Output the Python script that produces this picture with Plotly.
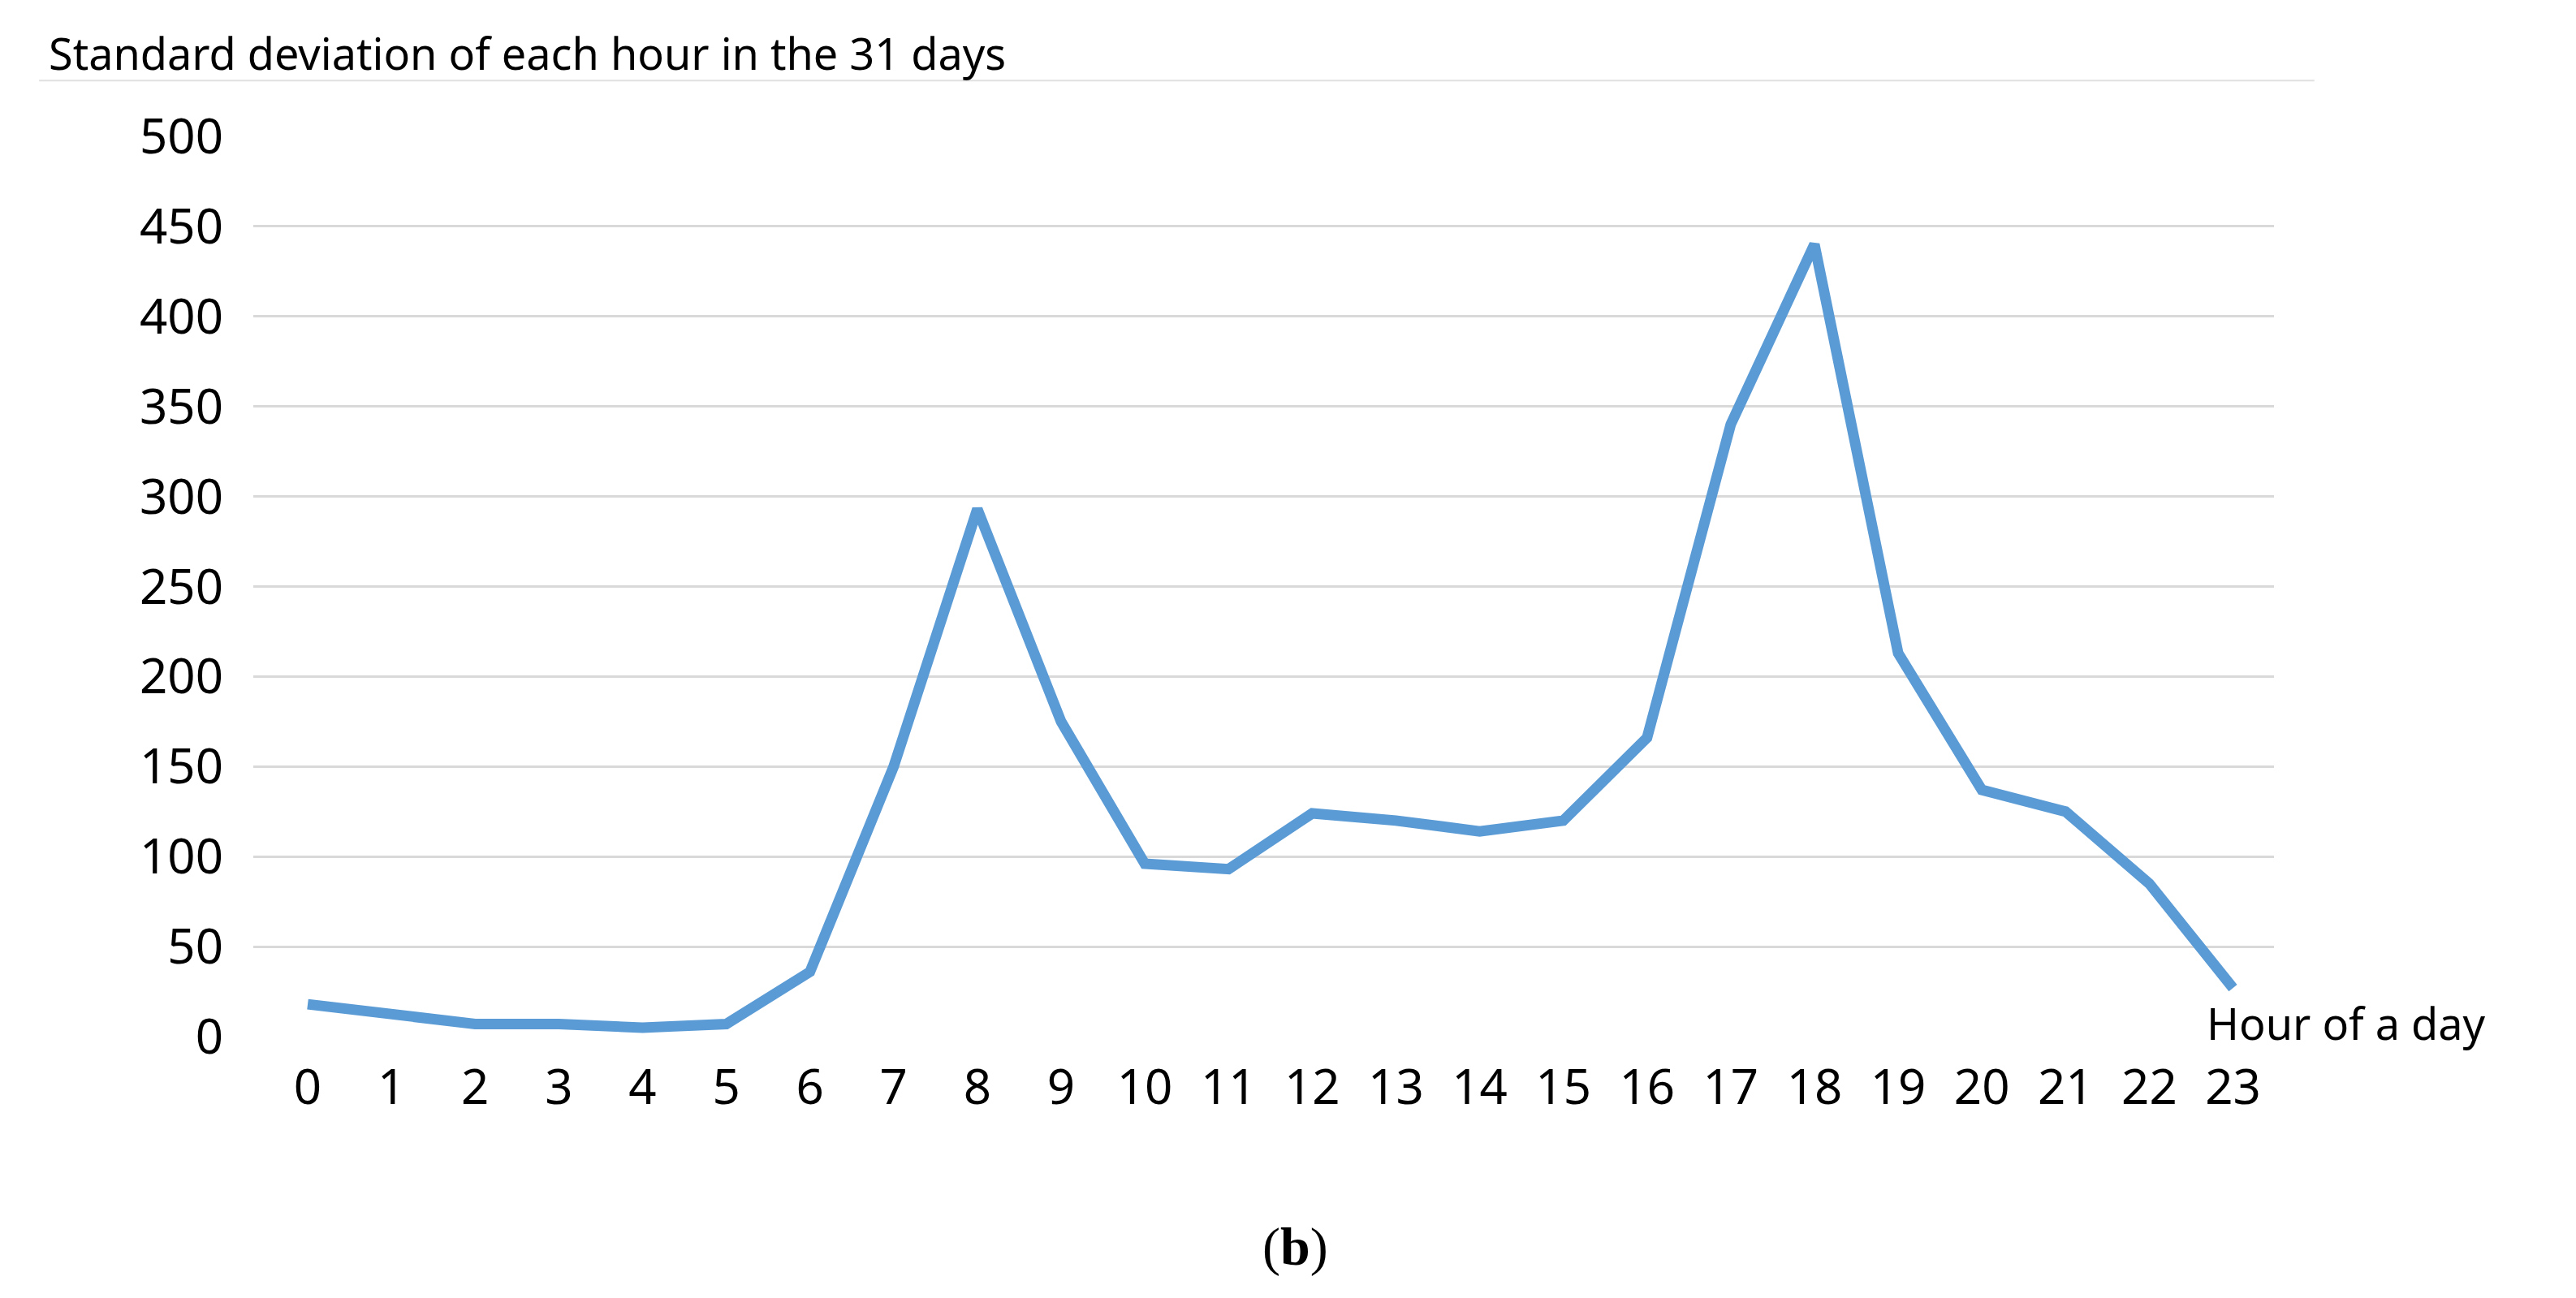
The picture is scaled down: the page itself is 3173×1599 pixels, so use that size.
import plotly.graph_objects as go

hours = list(range(24))
std_values = [18, 12, 7, 7, 5, 7, 36, 150, 293, 175, 96, 93, 124, 120, 114, 120, 166, 340, 440, 213, 137, 125, 85, 27]
y_ticks = [0, 50, 100, 150, 200, 250, 300, 350, 400, 450, 500]

FONT = "Noto Sans"
fig = go.Figure(go.Scatter(x=hours, y=std_values, mode="lines",
                           line=dict(color="#5B9BD5", width=13)))
fig.update_layout(
    width=3173, height=1599, paper_bgcolor="white", plot_bgcolor="white",
    margin=dict(l=304, r=380, t=160, b=330), showlegend=False,
    font=dict(family=FONT, color="black"),
    xaxis=dict(range=[-0.65, 23.49], tickvals=hours, ticktext=[str(h) for h in hours],
               showgrid=False, zeroline=False, showline=False, ticks="",
               tickfont=dict(size=60), ticklabelstandoff=22),
    yaxis=dict(range=[0, 500], tickvals=y_ticks, showgrid=True, gridcolor="#d9d9d9",
               gridwidth=3, zeroline=False, showline=False, ticks="",
               tickfont=dict(size=60), ticklabelstandoff=36),
    shapes=[dict(type="line", xref="paper", yref="paper", x0=-0.106, x1=1.02,
                 y0=1.062, y1=1.062, line=dict(color="#e0e0e0", width=2))],
    annotations=[
        dict(text="Standard deviation of each hour in the 31 days", xref="paper", yref="paper",
             x=-0.102, y=1.093, xanchor="left", yanchor="middle", showarrow=False,
             font=dict(size=54, family=FONT)),
        dict(text="Hour of a day", xref="paper", yref="paper", x=0.966, y=0.015,
             xanchor="left", yanchor="middle", showarrow=False, font=dict(size=54, family=FONT)),
        dict(text="(<b>b</b>)", xref="paper", yref="paper", x=(1587 - 304) / 2489,
             y=(1273 - 1532) / 1109, xanchor="center", yanchor="middle", showarrow=False,
             font=dict(size=66, family="Liberation Serif")),
    ],
)
fig.write_html("out.html")
